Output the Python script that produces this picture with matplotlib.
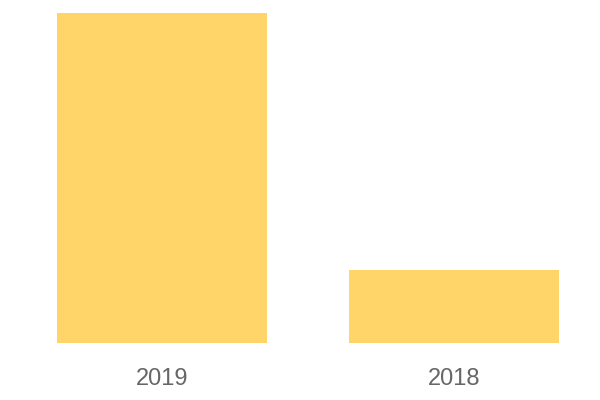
import matplotlib
matplotlib.use("Agg")
from matplotlib import pyplot as plt

# Chart data
years = ["2019", "2018"]
values = [100, 22]

bar_color = "#FFD56A"
label_color = "#666666"


def _main():
    fig = plt.figure(figsize=(6, 4), dpi=100)
    ax = fig.add_axes([0, 0.1425, 1, 0.825])

    positions = list(range(len(years)))
    ax.bar(positions, values, width=0.72, color=bar_color)

    ax.set_xlim(-0.555, 1.5)
    ax.set_ylim(0, 100)
    ax.set_xticks(positions)
    ax.set_xticklabels(years, fontsize=17, color=label_color,
                       family=["Liberation Sans", "DejaVu Sans"])
    ax.tick_params(axis="x", length=0, pad=18)
    ax.set_yticks([])
    for spine in ax.spines.values():
        spine.set_visible(False)

    fig.savefig("out.png", dpi=100)


if __name__ == "__main__":
    _main()
